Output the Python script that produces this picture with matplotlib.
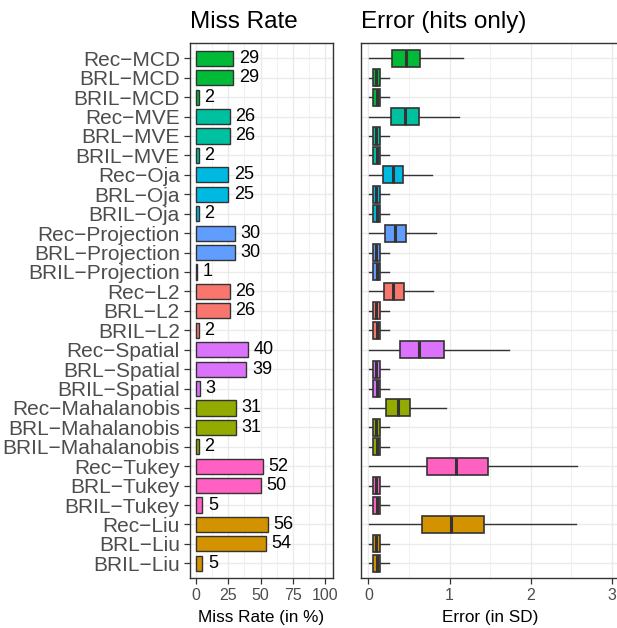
import matplotlib
matplotlib.use("Agg")
import matplotlib.pyplot as plt
from matplotlib.ticker import MultipleLocator

plt.rcParams['font.family'] = ['Liberation Sans', 'DejaVu Sans']

# Depth functions, top to bottom
methods = ["MCD", "MVE", "Oja", "Projection", "L2", "Spatial",
           "Mahalanobis", "Tukey", "Liu"]
variants = ["Rec", "BRL", "BRIL"]
method_colors = {
    "MCD": "#00BA38", "MVE": "#00C19F", "Oja": "#00B9E3",
    "Projection": "#619CFF", "L2": "#F8766D", "Spatial": "#DB72FB",
    "Mahalanobis": "#93AA00", "Tukey": "#FF61C3", "Liu": "#D39200",
}

# Miss rate (%) per method: Rec, BRL, BRIL
miss_rec = [29, 26, 25, 30, 26, 40, 31, 52, 56]
miss_brl = [29, 26, 25, 30, 26, 39, 31, 50, 54]
miss_bril = [2, 2, 2, 1, 2, 3, 2, 5, 5]

# Error (in SD) summaries for the Rec estimators: whisker low, Q1, median, Q3, whisker high
rec_whislo = [0.012, 0.012, 0.012, 0.012, 0.012, 0.012, 0.012, 0.012, 0.012]
rec_q1 = [0.295, 0.279, 0.185, 0.205, 0.190, 0.390, 0.222, 0.718, 0.665]
rec_med = [0.460, 0.450, 0.310, 0.328, 0.310, 0.624, 0.370, 1.079, 1.017]
rec_q3 = [0.640, 0.620, 0.430, 0.460, 0.440, 0.927, 0.517, 1.468, 1.427]
rec_whishi = [1.160, 1.116, 0.787, 0.837, 0.800, 1.727, 0.952, 2.567, 2.558]

# BRL / BRIL error summaries (shared across methods)
brl_stats = [0.012, 0.054, 0.100, 0.143, 0.250]
bril_stats = [0.012, 0.054, 0.104, 0.145, 0.255]

labels, miss, colors, stats = [], [], [], []
for i, m in enumerate(methods):
    for v, mr in zip(variants, (miss_rec[i], miss_brl[i], miss_bril[i])):
        labels.append(f"{v}\u2212{m}")
        miss.append(mr)
        colors.append(method_colors[m])
    stats.append(dict(whislo=rec_whislo[i], q1=rec_q1[i], med=rec_med[i],
                      q3=rec_q3[i], whishi=rec_whishi[i]))
    for s in (brl_stats, bril_stats):
        stats.append(dict(whislo=s[0], q1=s[1], med=s[2], q3=s[3], whishi=s[4]))

n = len(labels)
ypos = list(range(n))

W, H = 617, 628
fig = plt.figure(figsize=(W / 100, H / 100), dpi=100)

def px_axes(x0, y0, x1, y1):
    return fig.add_axes([x0 / W, 1 - y1 / H, (x1 - x0) / W, (y1 - y0) / H])

ax1 = px_axes(190, 43.3, 333, 578.3)
ax2 = px_axes(360.7, 43.3, 620, 578.3)

grid_col = "#EBEBEB"
edge_col = "#333333"
text_col = "#4D4D4D"

for ax in (ax1, ax2):
    ax.set_facecolor("white")
    ax.grid(True, which="major", color=grid_col, linewidth=1.0, zorder=0)
    ax.grid(True, which="minor", axis="x", color=grid_col, linewidth=0.5, zorder=0)
    ax.set_axisbelow(True)
    for sp in ax.spines.values():
        sp.set_color(edge_col)
        sp.set_linewidth(1.0)
    ax.set_ylim(n - 1 + 0.77, -0.77)
    ax.set_yticks(ypos)
    ax.tick_params(axis="both", which="major", color=edge_col, length=4,
                   width=0.9, pad=3, labelcolor=text_col, labelsize=11.5)
    ax.tick_params(axis="x", which="minor", length=0)

# Miss rate bars
ax1.barh(ypos, miss, height=0.78, color=colors, edgecolor=edge_col,
         linewidth=1.0, zorder=2)
for y, v in zip(ypos, miss):
    ax1.annotate(str(v), (v, y), xytext=(4, 0), textcoords="offset points",
                 ha="left", va="center", fontsize=13, color="black")
ax1.set_xlim(-4.65, 106.2)
ax1.xaxis.set_major_locator(MultipleLocator(25))
ax1.xaxis.set_minor_locator(MultipleLocator(12.5))
ax1.set_yticklabels(labels, fontsize=15, color=text_col)
ax1.tick_params(axis="y", pad=3.3)
ax1.set_xlabel("Miss Rate (in %)", fontsize=12.3, labelpad=5)
ax1.set_title("Miss Rate", loc="left", fontsize=17.5, pad=11)

# Error boxplots
bp = ax2.bxp(stats, positions=ypos, vert=False, widths=0.88, showfliers=False,
             showcaps=False, patch_artist=True,
             boxprops=dict(edgecolor=edge_col, linewidth=1.2),
             whiskerprops=dict(color=edge_col, linewidth=1.0),
             medianprops=dict(color=edge_col, linewidth=2.2),
             manage_ticks=False)
for box, c in zip(bp["boxes"], colors):
    box.set_facecolor(c)
    box.set_zorder(3)
for med in bp["medians"]:
    med.set_zorder(4)
ax2.set_xlim(-0.094, 3.1)
ax2.xaxis.set_major_locator(MultipleLocator(1))
ax2.xaxis.set_minor_locator(MultipleLocator(0.5))
ax2.set_yticklabels([])
ax2.tick_params(axis="y", length=0)
ax2.set_xlabel("Error (in SD)", fontsize=12.3, labelpad=5)
ax2.set_title("Error (hits only)", loc="left", fontsize=17.5, pad=11)

fig.savefig("out.png", dpi=100, facecolor="white")
